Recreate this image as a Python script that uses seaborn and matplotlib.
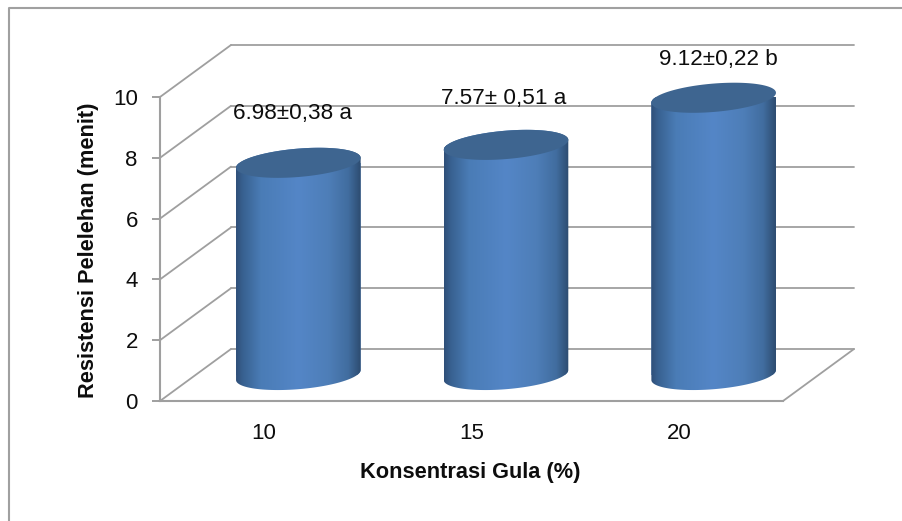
import numpy as np
import pandas as pd
import matplotlib
matplotlib.use("Agg")
import matplotlib.pyplot as plt
from matplotlib.colors import LinearSegmentedColormap
from matplotlib.lines import Line2D
from matplotlib.patches import Polygon
from matplotlib.path import Path
from matplotlib.transforms import Affine2D, IdentityTransform
import seaborn as sns

# Melting resistance by sugar concentration
concentrations = ["10", "15", "20"]
resistance = [6.98, 7.57, 9.12]
value_labels = ["6.98±0,38 a", "7.57± 0,51 a", "9.12±0,22 b"]
y_ticks = [0, 2, 4, 6, 8, 10]

W, H = 902, 521
GREY = "#9f9f9f"
DEPTH = np.array([71.0, 52.0])      # pixel offset from the front plane to the back wall
BAR_SHIFT = np.array([34.5, 26.0])  # cylinders stand halfway into the floor
SEMI_B = 14.2                       # cylinder end-cap semi-minor axis, px
SHEAR = 0.08                        # tilt of the end caps
label_offsets = [(29, 75), (32, 72), (39, 64)]

sns.set_theme(style="white")
plt.rcParams["font.family"] = ["Liberation Sans", "DejaVu Sans"]

fig = plt.figure(figsize=(W / 100, H / 100), dpi=100, facecolor="white")
ax = fig.add_axes([160 / W, (H - 401) / H, 623 / W, 304 / H], facecolor="none")

df = pd.DataFrame({"konsentrasi": concentrations, "resistensi": resistance})
sns.barplot(data=df, x="konsentrasi", y="resistensi", width=0.6,
            color="#4a7ab5", saturation=1, ax=ax, zorder=3)
ax.set_xlim(-0.5, 2.5)
ax.set_ylim(0, 10)

disp = IdentityTransform()


def to_px(x, v):
    return ax.transData.transform((x, v))


# Back wall and side wall gridlines
for v in y_ticks:
    front = to_px(-0.5, v)
    back_l = front + DEPTH
    back_r = to_px(2.5, v) + DEPTH
    ax.add_line(Line2D([back_l[0], back_r[0]], [back_l[1], back_r[1]], transform=disp,
                       color=GREY, lw=1.3, zorder=1, clip_on=False))
    ax.add_line(Line2D([front[0], back_l[0]], [front[1], back_l[1]], transform=disp,
                       color=GREY, lw=1.3, zorder=1, clip_on=False))

# Floor edge on the right
floor_front = to_px(2.5, 0)
ax.add_line(Line2D([floor_front[0], floor_front[0] + DEPTH[0]],
                   [floor_front[1], floor_front[1] + DEPTH[1]], transform=disp,
                   color=GREY, lw=1.3, zorder=1, clip_on=False))

# Horizontal shading across each cylinder
shade = LinearSegmentedColormap.from_list(
    "cyl", [(0.0, "#2f4f78"), (0.05, "#38608f"), (0.2, "#4a7cb6"), (0.5, "#5486c7"),
            (0.74, "#4e7eb8"), (0.9, "#416d9f"), (1.0, "#2d4c70")])
gradient = np.linspace(0, 1, 256)[None, :]

for bar in ax.patches:
    bar.set_transform(ax.transData + Affine2D().translate(*BAR_SHIFT))
    bar.set_edgecolor("none")
    x0, w, h = bar.get_x(), bar.get_width(), bar.get_height()
    xc = x0 + w / 2

    base = to_px(xc, 0) + BAR_SHIFT
    top = to_px(xc, h) + BAR_SHIFT
    a = (to_px(x0 + w, 0)[0] - to_px(x0, 0)[0]) / 2

    def cap(center, t):
        return np.column_stack([center[0] + a * np.cos(t),
                                center[1] + SEMI_B * np.sin(t) + SHEAR * a * np.cos(t)])

    outline = np.vstack([cap(base, np.linspace(np.pi, 2 * np.pi, 80)),
                         cap(top, np.linspace(0, np.pi, 80))])
    body = Path(np.vstack([outline, outline[0]]), closed=True)
    bar.set_clip_path(body, disp)

    im = ax.imshow(gradient, cmap=shade, aspect="auto", zorder=3.1, transform=disp,
                   extent=(base[0] - a, base[0] + a, base[1] - 20, top[1] + 20),
                   interpolation="bilinear")
    im.set_clip_path(body, disp)

    ax.add_patch(Polygon(cap(top, np.linspace(0, 2 * np.pi, 160)), closed=True,
                         transform=disp, facecolor="#3e6590", edgecolor="none",
                         zorder=3.2, clip_on=False))

ax.set_xlim(-0.5, 2.5)
ax.set_ylim(0, 10)

# Value annotations above the cylinders
for i, (val, txt, off) in enumerate(zip(resistance, value_labels, label_offsets)):
    ax.annotate(txt, xy=(i, val), xytext=(off[0] * 0.72, off[1] * 0.72),
                textcoords="offset points", ha="center", va="center",
                fontsize=16.2, color="#0d0d0d", zorder=5, annotation_clip=False)

# Axes styling
sns.despine(ax=ax, top=True, right=True)
for side in ("left", "bottom"):
    ax.spines[side].set_color(GREY)
    ax.spines[side].set_linewidth(1.5)
ax.set_yticks(y_ticks)
ax.tick_params(axis="y", length=6, width=1.4, color=GREY, pad=10, labelsize=16,
               labelcolor="#0d0d0d", left=True)
ax.tick_params(axis="x", length=0, pad=16, labelsize=16, labelcolor="#0d0d0d")

ax.set_xlabel("Konsentrasi Gula (%)", fontsize=15.7, fontweight="bold", color="#0d0d0d")
ax.set_ylabel("Resistensi Pelelehan (menit)", fontsize=15.7, fontweight="bold", color="#0d0d0d")
ax.xaxis.set_label_coords((470 - 160) / 623, -(462 - 401) / 304)
ax.yaxis.set_label_coords(-(160 - 99) / 623, (401 - 250) / 304)

# Outer chart frame, running off the right and bottom edges
fig.add_artist(Line2D([9, 9, W], [0, H - 8, H - 8], transform=disp, color="#a0a0a0", lw=1.5))

fig.savefig("out.png", dpi=100, facecolor="white")
